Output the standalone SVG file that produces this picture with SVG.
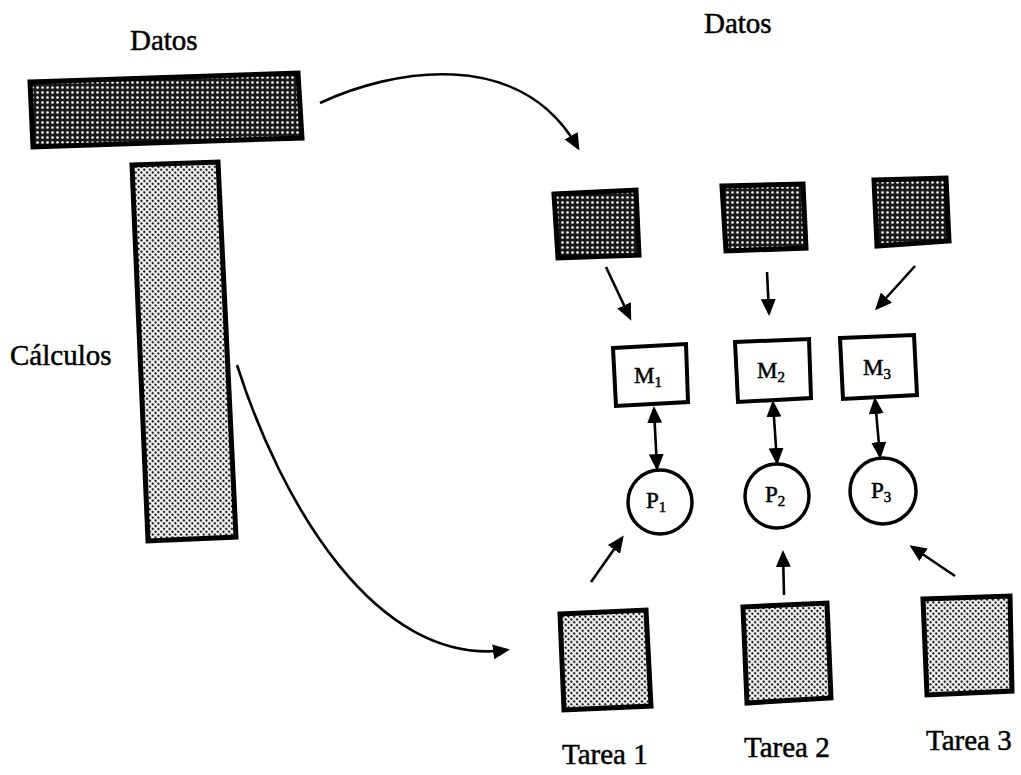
<svg xmlns="http://www.w3.org/2000/svg" width="1021" height="775" viewBox="0 0 1021 775">
  <style>
    .lbl { font-family: "Liberation Serif", "Times New Roman", serif; fill: #000; stroke: #000; stroke-width: 0.5; }
    .big { font-size: 29px; }
    .tarea { font-size: 29px; }
    .nl { font-size: 23px; }
    .sub { font-size: 15px; }
    .dark { fill: url(#darkDots); stroke: #000; stroke-width: 5; stroke-linejoin: miter; }
    .light { fill: url(#lightDots); stroke: #000; stroke-width: 5; stroke-linejoin: miter; }
    .box { fill: #fff; stroke: #000; stroke-width: 4; }
    .proc { fill: #fff; stroke: #000; stroke-width: 3.5; }
    .conn { fill: none; stroke: #000; stroke-width: 2.6; marker-end: url(#ah); }
    .dbl { fill: none; stroke: #000; stroke-width: 2.6; marker-start: url(#ah); marker-end: url(#ah); }
  </style>
  <defs>
    <pattern id="darkDots" width="5" height="5" patternUnits="userSpaceOnUse">
      <rect width="5" height="5" fill="#1a1a1a"/>
      <circle cx="2.5" cy="2.5" r="1.3" fill="#fff"/>
    </pattern>
    <pattern id="lightDots" width="4" height="4" patternUnits="userSpaceOnUse" patternTransform="rotate(45)">
      <rect width="4" height="4" fill="#fff"/>
      <circle cx="2" cy="2" r="1.35" fill="#222"/>
    </pattern>
    <marker id="ah" viewBox="0 0 17 15" markerWidth="17" markerHeight="15" refX="14" refY="7.5" orient="auto-start-reverse" markerUnits="userSpaceOnUse">
      <path d="M0,0 L17,7.5 L0,15 z" fill="#000"/>
    </marker>
  </defs>

  <rect width="1021" height="775" fill="#fff"/>

  <!-- Left side -->
  <g id="datos-left">
    <text class="lbl big" x="130" y="50">Datos</text>
    <polygon class="dark" points="30,82 298,73 302,138 33,147"/>
  </g>
  <g id="calculos-bar">
    <polygon class="light" points="132,165 218,162 236,537 148,541"/>
  </g>
  <g id="calculos-label">
    <text class="lbl big" x="10" y="365">Cálculos</text>
  </g>

  <!-- Right side -->
  <g id="datos-right">
    <text class="lbl big" x="704" y="33">Datos</text>
  </g>
  <g id="dato1"><polygon class="dark" points="554,194 636,190 639,255 558,258"/></g>
  <g id="dato2"><polygon class="dark" points="722,186 803,184 806,248 726,251"/></g>
  <g id="dato3"><polygon class="dark" points="874,180 946,178 949,241 877,246"/></g>

  <g id="m1">
    <polygon class="box" points="613,348 686,344 688,402 616,406"/>
    <text class="lbl nl" x="634" y="383">M<tspan class="sub" dy="4">1</tspan></text>
  </g>
  <g id="m2">
    <polygon class="box" points="735,342 809,339 811,398 738,402"/>
    <text class="lbl nl" x="757" y="378">M<tspan class="sub" dy="4">2</tspan></text>
  </g>
  <g id="m3">
    <polygon class="box" points="840,338 914,335 917,395 843,399"/>
    <text class="lbl nl" x="863" y="375">M<tspan class="sub" dy="4">3</tspan></text>
  </g>

  <g id="p1">
    <circle class="proc" cx="660" cy="502" r="32"/>
    <text class="lbl nl" x="646" y="508">P<tspan class="sub" dy="4">1</tspan></text>
  </g>
  <g id="p2">
    <circle class="proc" cx="777" cy="496" r="32"/>
    <text class="lbl nl" x="765" y="502">P<tspan class="sub" dy="4">2</tspan></text>
  </g>
  <g id="p3">
    <circle class="proc" cx="883" cy="491" r="33"/>
    <text class="lbl nl" x="871" y="498">P<tspan class="sub" dy="4">3</tspan></text>
  </g>

  <g id="tarea1">
    <polygon class="light" points="560,614 646,610 651,706 564,710"/>
    <text class="lbl tarea" x="562" y="764">Tarea 1</text>
  </g>
  <g id="tarea2">
    <polygon class="light" points="743,607 827,603 831,698 747,703"/>
    <text class="lbl tarea" x="744" y="757">Tarea 2</text>
  </g>
  <g id="tarea3">
    <polygon class="light" points="923,599 1010,596 1012,691 927,695"/>
    <text class="lbl tarea" x="926" y="750">Tarea 3</text>
  </g>

  <!-- Connectors -->
  <g id="connectors">
    <path class="conn" d="M320,103 C390,70 520,45 578,148"/>
    <path class="conn" d="M237,365 C280,500 375,668 507,650"/>
    <path class="conn" d="M606,267 L630,318"/>
    <path class="conn" d="M767,272 L769,313"/>
    <path class="conn" d="M915,266 L877,308"/>
    <path class="dbl" d="M654,409 L657,468"/>
    <path class="dbl" d="M773,403 L777,462"/>
    <path class="dbl" d="M875,400 L880,456"/>
    <path class="conn" d="M591,582 L622,538"/>
    <path class="conn" d="M784,595 L783,553"/>
    <path class="conn" d="M955,576 L912,547"/>
  </g>
</svg>
